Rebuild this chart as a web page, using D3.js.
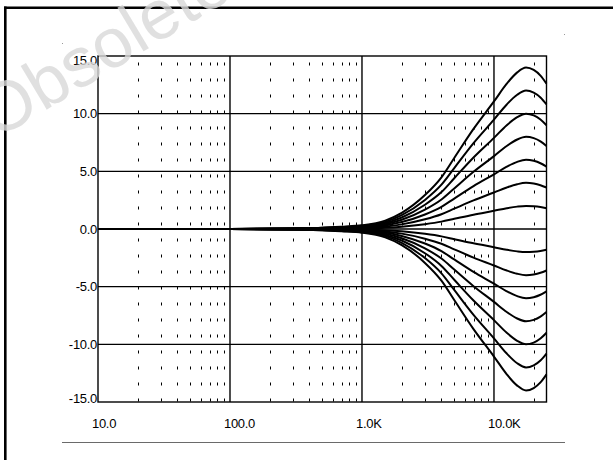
<!DOCTYPE html>
<html><head><meta charset="utf-8">
<script src="https://cdn.jsdelivr.net/npm/d3@7"></script>
<style>html,body{margin:0;padding:0;background:#fff;} svg{display:block;}</style>
</head><body><svg id="c" width="613" height="460"></svg>
<script>
// ---- data ----
const freqs = [10, 100, 300, 500, 700, 1000, 1500, 2000, 3000, 4000, 5000, 7000, 10000, 12500, 15000, 17500, 20000, 22500, 25000];
const boostP14 = [0, 0, 0.06, 0.11, 0.20, 0.32, 0.73, 1.40, 2.94, 4.48, 6.16, 8.68, 11.06, 12.60, 13.58, 14.00, 13.79, 13.30, 12.60];
const boostP12 = [0, 0, 0.05, 0.10, 0.17, 0.28, 0.62, 1.20, 2.52, 3.84, 5.28, 7.44, 9.48, 10.80, 11.64, 12.00, 11.82, 11.40, 10.80];
const boostP10 = [0, 0, 0.04, 0.08, 0.14, 0.23, 0.52, 1.00, 2.10, 3.20, 4.40, 6.20, 7.90, 9.00, 9.70, 10.00, 9.85, 9.50, 9.00];
const boostP8  = [0, 0, 0.03, 0.06, 0.11, 0.18, 0.42, 0.80, 1.68, 2.56, 3.52, 4.96, 6.32, 7.20, 7.76, 8.00, 7.88, 7.60, 7.20];
const boostP6  = [0, 0, 0.02, 0.05, 0.08, 0.14, 0.31, 0.60, 1.26, 1.92, 2.64, 3.72, 4.74, 5.40, 5.82, 6.00, 5.91, 5.70, 5.40];
const boostP4  = [0, 0, 0.02, 0.03, 0.06, 0.09, 0.21, 0.40, 0.84, 1.28, 1.76, 2.48, 3.16, 3.60, 3.88, 4.00, 3.94, 3.80, 3.60];
const boostP2  = [0, 0, 0.01, 0.02, 0.03, 0.05, 0.10, 0.20, 0.42, 0.64, 0.88, 1.24, 1.58, 1.80, 1.94, 2.00, 1.97, 1.90, 1.80];
const cutM2  = [0, 0, -0.01, -0.02, -0.03, -0.05, -0.10, -0.20, -0.42, -0.64, -0.88, -1.24, -1.58, -1.80, -1.94, -2.00, -1.97, -1.90, -1.80];
const cutM4  = [0, 0, -0.02, -0.03, -0.06, -0.09, -0.21, -0.40, -0.84, -1.28, -1.76, -2.48, -3.16, -3.60, -3.88, -4.00, -3.94, -3.80, -3.60];
const cutM6  = [0, 0, -0.02, -0.05, -0.08, -0.14, -0.31, -0.60, -1.26, -1.92, -2.64, -3.72, -4.74, -5.40, -5.82, -6.00, -5.91, -5.70, -5.40];
const cutM8  = [0, 0, -0.03, -0.06, -0.11, -0.18, -0.42, -0.80, -1.68, -2.56, -3.52, -4.96, -6.32, -7.20, -7.76, -8.00, -7.88, -7.60, -7.20];
const cutM10 = [0, 0, -0.04, -0.08, -0.14, -0.23, -0.52, -1.00, -2.10, -3.20, -4.40, -6.20, -7.90, -9.00, -9.70, -10.00, -9.85, -9.50, -9.00];
const cutM12 = [0, 0, -0.05, -0.10, -0.17, -0.28, -0.62, -1.20, -2.52, -3.84, -5.28, -7.44, -9.48, -10.80, -11.64, -12.00, -11.82, -11.40, -10.80];
const cutM14 = [0, 0, -0.06, -0.11, -0.20, -0.32, -0.73, -1.40, -2.94, -4.48, -6.16, -8.68, -11.06, -12.60, -13.58, -14.00, -13.79, -13.30, -12.60];

const xTicks = [10, 100, 1000, 10000];
const xTickLabels = ["10.0", "100.0", "1.0K", "10.0K"];
const yTicks = [-15, -10, -5, 0, 5, 10, 15];
const yTickLabels = ["-15.0", "-10.0", "-5.0", "0.0", "5.0", "10.0", "15.0"];
const minorFreqs = [20, 30, 40, 50, 60, 70, 80, 90, 200, 300, 400, 500, 600, 700, 800, 900,
                    2000, 3000, 4000, 5000, 6000, 7000, 8000, 9000, 20000];
const watermarkText = "Obsolete";

const series = [boostP14, boostP12, boostP10, boostP8, boostP6, boostP4, boostP2,
                cutM2, cutM4, cutM6, cutM8, cutM10, cutM12, cutM14];

// ---- drawing ----
const svg = d3.select("#c");
const x = d3.scaleLog().domain([10, 25000]).range([98, 546.5]);
const y = d3.scaleLinear().domain([-15, 15]).range([402, 56]);

// page frame (top & left)
svg.append("line").attr("x1", 4).attr("x2", 613).attr("y1", 7.8).attr("y2", 7.8)
  .attr("stroke", "#000").attr("stroke-width", 2.4);
svg.append("line").attr("x1", 5.3).attr("x2", 5.3).attr("y1", 6.6).attr("y2", 460)
  .attr("stroke", "#000").attr("stroke-width", 2.6);

// minor dotted verticals
svg.append("g").selectAll("line").data(minorFreqs).join("line")
  .attr("x1", d => Math.round(x(d)) + 0.5).attr("x2", d => Math.round(x(d)) + 0.5)
  .attr("y1", y(15)).attr("y2", y(-15))
  .attr("stroke", "#000").attr("stroke-width", 1)
  .attr("stroke-dasharray", "3 13").attr("stroke-dashoffset", 9.5);

// major grid
svg.append("g").selectAll("line").data(xTicks.slice(1)).join("line")
  .attr("x1", d => x(d)).attr("x2", d => x(d)).attr("y1", y(15)).attr("y2", y(-15))
  .attr("stroke", "#000").attr("stroke-width", 1.4);
svg.append("g").selectAll("line").data(yTicks.slice(1, -1)).join("line")
  .attr("x1", x(10)).attr("x2", x(25000)).attr("y1", d => y(d)).attr("y2", d => y(d))
  .attr("stroke", "#000").attr("stroke-width", 1.4);

// plot frame
svg.append("rect").attr("x", x(10)).attr("y", y(15))
  .attr("width", x(25000) - x(10)).attr("height", y(-15) - y(15))
  .attr("fill", "none").attr("stroke", "#000").attr("stroke-width", 1.4);

// curves
const line = d3.line().x((d, i) => x(freqs[i])).y(d => y(d)).curve(d3.curveMonotoneX);
svg.append("g").selectAll("path").data(series).join("path")
  .attr("d", d => line(d)).attr("fill", "none")
  .attr("stroke", "#000").attr("stroke-width", 2);

// y labels
svg.append("g").selectAll("text").data(yTicks).join("text")
  .attr("x", 97).attr("y", (d, i) => d === 15 ? y(d) + 9.3 : d === -15 ? y(d) + 0.7 : y(d) + 4.6)
  .attr("text-anchor", "end")
  .attr("font-family", "Liberation Sans, Arial, sans-serif").attr("font-size", 13)
  .attr("letter-spacing", -0.3)
  .text((d, i) => yTickLabels[i]);

// x labels
svg.append("g").selectAll("text").data(xTicks).join("text")
  .attr("x", d => x(d) - 6).attr("y", 427.5)
  .attr("text-anchor", "start")
  .attr("font-family", "Liberation Sans, Arial, sans-serif").attr("font-size", 13)
  .attr("letter-spacing", -0.3)
  .text((d, i) => xTickLabels[i]);

// gray rule under chart
svg.append("line").attr("x1", 62).attr("x2", 565).attr("y1", 442.5).attr("y2", 442.5)
  .attr("stroke", "#6a6a6a").attr("stroke-width", 1.2);
svg.append("rect").attr("x", 62).attr("y", 43).attr("width", 1).attr("height", 1).attr("fill", "#999");
svg.append("rect").attr("x", 564).attr("y", 34).attr("width", 1).attr("height", 1).attr("fill", "#999");

// watermark
svg.append("text").attr("transform", "translate(-4,140) rotate(-31)")
  .attr("font-family", "Liberation Sans, Arial, sans-serif").attr("font-size", 70)
  .attr("fill", "#d8d8d8").attr("fill-opacity", 0.8)
  .text(watermarkText);
</script>
</body></html>
